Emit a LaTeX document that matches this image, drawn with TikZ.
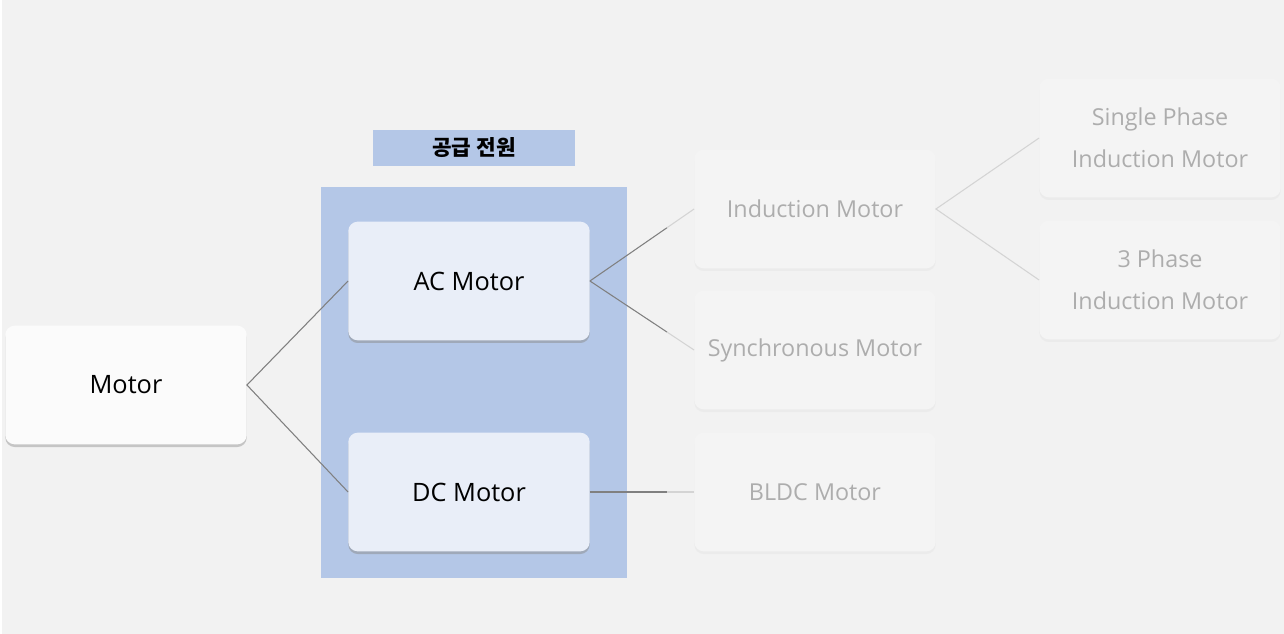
\documentclass[tikz,border=0pt]{standalone}
\usepackage{fontspec}
\setmainfont{Open Sans}
\newfontfamily\krfont{Noto Sans CJK KR}
\usetikzlibrary{calc,shadows}
\definecolor{cBack}   {HTML}{F2F2F2}
\definecolor{cPanel}  {HTML}{B4C7E7}
\definecolor{cInner}  {HTML}{E9EEF8}
\definecolor{cTop}    {HTML}{FBFBFB}
\definecolor{cGhost}  {HTML}{F4F4F4}
\definecolor{cGhostTx}{HTML}{ADADAD}
\definecolor{cLink}   {HTML}{808080}
\definecolor{cLinkG}  {HTML}{D4D4D4}
\tikzset{
  box/.style={rounded corners=7pt,minimum width=181pt,minimum height=89pt,
              inner sep=2pt,align=center,font=\fontsize{19}{31.5}\selectfont},
  boxTop/.style={box,fill=cTop,text=black,
              drop shadow={shadow xshift=0pt,shadow yshift=-2pt,fill=black!40,opacity=.5}},
  boxIn/.style={box,fill=cInner,text=black,
              drop shadow={shadow xshift=0pt,shadow yshift=-2pt,fill=black!45,opacity=.5}},
  boxGh/.style={box,fill=cGhost,text=cGhostTx,font=\fontsize{17.5}{31.5}\selectfont,
              drop shadow={shadow xshift=0pt,shadow yshift=-2pt,fill=black!10,opacity=.5}},
  panel/.style={fill=cPanel,inner sep=0pt},
  link/.style={cLink,line width=0.8pt},
  linkG/.style={cLinkG,line width=0.8pt},
}

\begin{document}
\begin{tikzpicture}[x=0.75pt,y=-0.75pt]
  % canvas
  \fill[white] (0,0) rectangle (1284,634);
  \fill[cBack] (2,0) rectangle (1284,634);
  \useasboundingbox (0,0) rectangle (1284,634);

  % supply panel and its title
  \node[panel,minimum width=229.5pt,minimum height=293pt] (supply) at (474,382.5) {};
  \node[panel,minimum width=151.5pt,minimum height=27pt,
        font=\krfont\bfseries\fontsize{16}{18}\selectfont] (title) at (474,148) {공급 전원};

  % motor tree
  \node[boxTop] (motor) at (126,385) {Motor};
  \node[boxIn]  (ac)    at (469,281) {AC Motor};
  \node[boxIn]  (dc)    at (469,492) {DC Motor};
  \node[boxGh]  (ind)   at (815,209) {Induction Motor};
  \node[boxGh]  (syn)   at (815,350) {Synchronous Motor};
  \node[boxGh]  (bldc)  at (815,492) {BLDC Motor};
  \node[boxGh]  (sph)   at (1160,138) {Single Phase\\Induction Motor};
  \node[boxGh]  (tph)   at (1160,280) {3 Phase\\Induction Motor};

  % connectors
  \draw[link] (ac.west) -- (motor.east) -- (dc.west);
  \foreach \a/\b in {ac/ind,ac/syn,dc/bldc}{
    \coordinate (m\b) at ($(\a.east)!0.74!(\b.west)$);
    \draw[link]  (\a.east) -- (m\b);
    \draw[linkG] (m\b) -- (\b.west);
  }
  \draw[linkG] (sph.west) -- (ind.east) -- (tph.west);
\end{tikzpicture}
\end{document}
